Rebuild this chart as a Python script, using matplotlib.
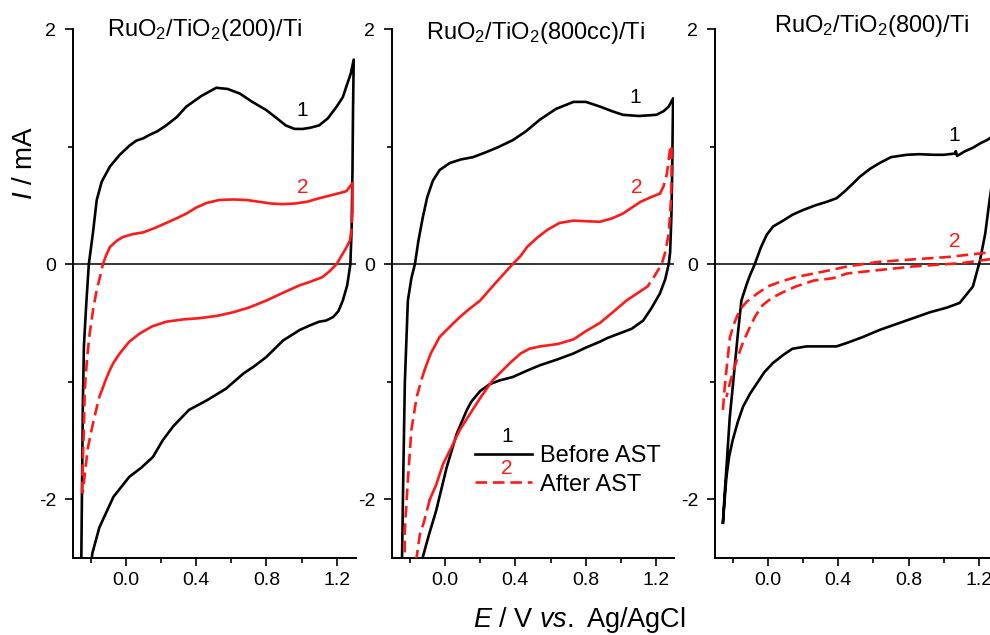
import matplotlib
matplotlib.use("Agg")
import matplotlib.pyplot as plt
from matplotlib.lines import Line2D
from matplotlib.ticker import FixedLocator, FormatStrFormatter

plt.rcParams['font.family'] = ['Liberation Sans', 'DejaVu Sans']
plt.rcParams['mathtext.fontset'] = 'custom'
plt.rcParams['mathtext.rm'] = 'Liberation Sans'
plt.rcParams['mathtext.it'] = 'Liberation Sans:italic'
plt.rcParams['mathtext.bf'] = 'Liberation Sans:bold'
plt.rcParams['axes.unicode_minus'] = False

# ---------------- data ----------------
titles = [r'RuO$_2$/TiO$_2$(200)/Ti', r'RuO$_2$/TiO$_2$(800cc)/Ti', r'RuO$_2$/TiO$_2$(800)/Ti']
x_major = [0.0, 0.4, 0.8, 1.2]
x_minor = [-0.2, 0.2, 0.6, 1.0]
y_major = [-2, 0, 2]
y_minor = [-1, 1]
legend_labels = ['Before AST', 'After AST']
curve_ids = ['1', '2']

# Panel 1 : RuO2/TiO2(200)/Ti
p1_black_E = [-0.255, -0.252, -0.248, -0.244, -0.238, -0.225, -0.21, -0.187, -0.165, -0.137, -0.09, -0.034,
              0.023, 0.06, 0.10, 0.136, 0.18, 0.23, 0.29, 0.345, 0.43, 0.515, 0.58, 0.65, 0.72, 0.80,
              0.86, 0.91, 0.96, 1.007, 1.05, 1.10, 1.15, 1.20, 1.235, 1.255, 1.28, 1.297, 1.293, 1.29, 1.285,
              1.278, 1.26, 1.235, 1.21, 1.18, 1.14, 1.10, 1.05, 0.99, 0.895, 0.80, 0.73, 0.67, 0.57, 0.46,
              0.36, 0.27, 0.21, 0.155, 0.09, 0.02, -0.07, -0.15, -0.19, -0.22]
p1_black_I = [-2.9, -2.4, -1.8, -1.2, -0.7, -0.35, 0.0, 0.26, 0.545, 0.70, 0.83, 0.93,
              1.01, 1.05, 1.07, 1.10, 1.13, 1.18, 1.25, 1.34, 1.43, 1.50, 1.49, 1.45, 1.38, 1.31,
              1.24, 1.18, 1.15, 1.15, 1.16, 1.18, 1.24, 1.34, 1.42, 1.51, 1.62, 1.74, 1.3, 0.8, 0.3,
              0.0, -0.18, -0.31, -0.40, -0.45, -0.48, -0.49, -0.52, -0.56, -0.65, -0.79, -0.87, -0.93, -1.06, -1.16,
              -1.24, -1.38, -1.50, -1.64, -1.73, -1.81, -1.98, -2.24, -2.46, -2.9]
p1_red_dash1_E = [-0.248, -0.245, -0.24, -0.233, -0.22, -0.205, -0.185, -0.165, -0.145, -0.13]
p1_red_dash1_I = [-1.95, -1.7, -1.5, -1.07, -0.8, -0.59, -0.38, -0.22, -0.1, 0.0]
p1_red_solid1_E = [-0.13, -0.11, -0.09, -0.05, -0.017, 0.04, 0.10, 0.17, 0.23, 0.29, 0.345, 0.40, 0.46, 0.53,
                   0.61, 0.69, 0.76, 0.83, 0.89, 0.96, 1.03, 1.10, 1.18, 1.255, 1.29, 1.29]
p1_red_solid1_I = [0.0, 0.08, 0.145, 0.2, 0.23, 0.255, 0.27, 0.31, 0.35, 0.39, 0.43, 0.48, 0.52, 0.545,
                   0.55, 0.545, 0.53, 0.515, 0.51, 0.515, 0.53, 0.56, 0.59, 0.62, 0.69, 0.45]
p1_red_dash2_E = [1.29, 1.285, 1.275]
p1_red_dash2_I = [0.45, 0.3, 0.2]
p1_red_solid2_E = [1.275, 1.255, 1.235, 1.20, 1.16, 1.12, 1.05, 0.99, 0.90, 0.80, 0.70, 0.61, 0.52, 0.42,
                   0.33, 0.23, 0.15, 0.08, 0.02, -0.034, -0.07, -0.09, -0.11, -0.13]
p1_red_solid2_I = [0.2, 0.14, 0.09, 0.0, -0.06, -0.11, -0.15, -0.18, -0.24, -0.31, -0.37, -0.41, -0.44, -0.46,
                   -0.47, -0.49, -0.53, -0.59, -0.66, -0.76, -0.84, -0.90, -0.97, -1.05]
p1_red_dash3_E = [-0.13, -0.15, -0.165, -0.19, -0.215, -0.23, -0.245]
p1_red_dash3_I = [-1.05, -1.13, -1.22, -1.38, -1.56, -1.75, -1.95]

# Panel 2 : RuO2/TiO2(800cc)/Ti
p2_black_E = [-0.246, -0.243, -0.235, -0.227, -0.21, -0.19, -0.17, -0.15, -0.125, -0.1, -0.068, -0.03,
              0.028, 0.09, 0.16, 0.23, 0.295, 0.386, 0.46, 0.54, 0.63, 0.73, 0.80, 0.88, 0.95, 1.01, 1.10,
              1.20, 1.24, 1.27, 1.295, 1.292, 1.29, 1.285, 1.278, 1.27, 1.25, 1.22, 1.17, 1.125, 1.06, 0.99,
              0.92, 0.88, 0.80, 0.73, 0.64, 0.54, 0.46, 0.386, 0.31, 0.256, 0.20, 0.15, 0.125, 0.068, 0.01,
              -0.05, -0.09, -0.125, -0.16]
p2_black_I = [-2.9, -2.5, -1.7, -1.0, -0.31, -0.12, 0.0, 0.2, 0.40, 0.57, 0.71, 0.80,
              0.86, 0.89, 0.91, 0.95, 0.99, 1.055, 1.13, 1.23, 1.32, 1.38, 1.38, 1.34, 1.30, 1.27, 1.26,
              1.27, 1.30, 1.34, 1.41, 1.1, 0.8, 0.4, 0.1, 0.0, -0.13, -0.25, -0.38, -0.48, -0.55, -0.59,
              -0.63, -0.66, -0.71, -0.76, -0.81, -0.86, -0.91, -0.96, -0.99, -1.02, -1.08, -1.17, -1.24, -1.44, -1.73,
              -2.1, -2.3, -2.49, -2.9]
p2_red_dash1_E = [-0.228, -0.227, -0.21, -0.19, -0.16, -0.13, -0.115]
p2_red_dash1_I = [-2.6, -2.26, -1.84, -1.41, -1.13, -0.97, -0.90]
p2_red_solid1_E = [-0.115, -0.08, -0.03, 0.03, 0.085, 0.14, 0.20, 0.27, 0.33, 0.385, 0.43, 0.466, 0.52, 0.58,
                   0.65, 0.73, 0.80, 0.88, 0.95, 1.01, 1.06, 1.11, 1.17, 1.22]
p2_red_solid1_I = [-0.90, -0.76, -0.62, -0.53, -0.45, -0.38, -0.31, -0.19, -0.09, 0.0, 0.07, 0.145, 0.22, 0.29,
                   0.35, 0.37, 0.365, 0.36, 0.39, 0.43, 0.48, 0.53, 0.57, 0.60]
p2_red_dash2_E = [1.22, 1.24, 1.26, 1.28, 1.286, 1.286, 1.283, 1.27, 1.25, 1.23, 1.19, 1.15]
p2_red_dash2_I = [0.60, 0.66, 0.77, 1.01, 1.0, 0.75, 0.55, 0.26, 0.1, 0.0, -0.1, -0.19]
p2_red_solid2_E = [1.15, 1.07, 1.03, 0.96, 0.88, 0.80, 0.73, 0.64, 0.54, 0.48, 0.43, 0.37, 0.31, 0.27, 0.20,
                   0.14, 0.085, 0.04, -0.01, -0.05, -0.085]
p2_red_solid2_I = [-0.19, -0.27, -0.31, -0.40, -0.50, -0.57, -0.64, -0.68, -0.70, -0.72, -0.76, -0.84, -0.93,
                   -0.99, -1.14, -1.28, -1.41, -1.55, -1.70, -1.88, -2.0]
p2_red_dash3_E = [-0.085, -0.12, -0.142, -0.16, -0.17]
p2_red_dash3_I = [-2.0, -2.2, -2.3, -2.49, -2.6]

# Panel 3 : RuO2/TiO2(800)/Ti
p3_black_E = [-0.255, -0.245, -0.235, -0.216, -0.197, -0.17, -0.15, -0.12, -0.10, -0.074, -0.04, -0.006, 0.03,
              0.087, 0.14, 0.20, 0.27, 0.335, 0.39, 0.43, 0.48, 0.52, 0.58, 0.635, 0.70, 0.79, 0.86, 0.94,
              1.00, 1.06, 1.068, 1.075, 1.12, 1.165, 1.21, 1.245, 1.27, 1.30, 1.30, 1.28, 1.26, 1.235, 1.205,
              1.165, 1.09, 1.017, 0.92, 0.825, 0.73, 0.635, 0.54, 0.45, 0.39, 0.30, 0.22, 0.14, 0.09, 0.03,
              -0.02, -0.06, -0.10, -0.14, -0.17, -0.20, -0.22, -0.235, -0.245, -0.255]
p3_black_I = [-2.2, -1.95, -1.73, -1.30, -1.01, -0.59, -0.31, -0.17, -0.09, 0.0, 0.14, 0.25, 0.32,
              0.37, 0.42, 0.46, 0.50, 0.53, 0.56, 0.61, 0.68, 0.74, 0.81, 0.86, 0.91, 0.93, 0.935, 0.93,
              0.93, 0.94, 0.96, 0.92, 0.96, 0.99, 1.03, 1.055, 1.08, 1.12, 0.9, 0.75, 0.55, 0.26, 0.03,
              -0.19, -0.33, -0.37, -0.41, -0.46, -0.51, -0.56, -0.62, -0.67, -0.70, -0.70, -0.70, -0.72, -0.77, -0.84,
              -0.92, -1.01, -1.10, -1.21, -1.34, -1.50, -1.64, -1.81, -2.0, -2.2]
p3_red_up_E = [-0.255, -0.245, -0.235, -0.215, -0.19, -0.16, -0.12, -0.06, 0.0, 0.07, 0.16, 0.26, 0.36, 0.45,
               0.54, 0.635, 0.73, 0.825, 0.92, 1.02, 1.11, 1.205, 1.30]
p3_red_up_I = [-1.24, -1.05, -0.90, -0.62, -0.50, -0.39, -0.32, -0.25, -0.19, -0.15, -0.11, -0.08, -0.05, -0.02,
               0.0, 0.02, 0.03, 0.04, 0.05, 0.06, 0.075, 0.09, 0.11]
p3_red_down_E = [1.30, 1.205, 1.11, 1.02, 0.92, 0.825, 0.73, 0.635, 0.54, 0.45, 0.37, 0.26, 0.16, 0.085, 0.02,
                 -0.03, -0.07, -0.10, -0.14, -0.17, -0.195, -0.215, -0.235]
p3_red_down_I = [0.05, 0.03, 0.01, 0.0, -0.01, -0.02, -0.035, -0.05, -0.065, -0.08, -0.12, -0.14, -0.19, -0.24,
                 -0.29, -0.35, -0.44, -0.53, -0.66, -0.79, -0.90, -1.01, -1.13]

# curve-number label anchors (data coords) per panel
label1_pos = [(1.006, 1.31), (1.08, 1.42), (1.06, 1.09)]
label2_pos = [(1.006, 0.65), (1.09, 0.65), (1.06, 0.19)]

# ---------------- drawing ----------------
W, H = 990, 635
fig = plt.figure(figsize=(W / 100, H / 100), dpi=100)

def frac(x0, y0, x1, y1):
    return [x0 / W, 1 - y1 / H, (x1 - x0) / W, (y1 - y0) / H]

axes = [fig.add_axes(frac(73, 29, 356, 558)),
        fig.add_axes(frac(392, 29, 674, 558)),
        fig.add_axes(frac(715, 29, 990, 558))]
xlims = [(-0.30, 1.31), (-0.30, 1.30), (-0.30, 1.262)]

BLACK = 'black'
RED = '#ff1a1a'
LW = 1.9
DASH = (0, (4.4, 2.2))

solid_sets = [
    ([(p1_black_E, p1_black_I)], [(p1_red_solid1_E, p1_red_solid1_I), (p1_red_solid2_E, p1_red_solid2_I)],
     [(p1_red_dash1_E, p1_red_dash1_I), (p1_red_dash2_E, p1_red_dash2_I), (p1_red_dash3_E, p1_red_dash3_I)]),
    ([(p2_black_E, p2_black_I)], [(p2_red_solid1_E, p2_red_solid1_I), (p2_red_solid2_E, p2_red_solid2_I)],
     [(p2_red_dash1_E, p2_red_dash1_I), (p2_red_dash2_E, p2_red_dash2_I), (p2_red_dash3_E, p2_red_dash3_I)]),
    ([(p3_black_E, p3_black_I)], [],
     [(p3_red_up_E, p3_red_up_I), (p3_red_down_E, p3_red_down_I)]),
]

for k, ax in enumerate(axes):
    blacks, red_solid, red_dash = solid_sets[k]
    ax.axhline(0, color='black', lw=1.1, zorder=1)
    for E, I in blacks:
        ax.plot(E, I, color=BLACK, lw=LW, solid_joinstyle='round', zorder=3)
    for E, I in red_solid:
        ax.plot(E, I, color=RED, lw=LW, solid_joinstyle='round', zorder=4)
    for E, I in red_dash:
        ax.plot(E, I, color=RED, lw=LW, ls=DASH, zorder=4)
    ax.set_xlim(*xlims[k])
    ax.set_ylim(-2.5, 2.0)
    for s in ('top', 'right'):
        ax.spines[s].set_visible(False)
    for s in ('left', 'bottom'):
        ax.spines[s].set_linewidth(1.4)
    ax.xaxis.set_major_locator(FixedLocator(x_major))
    ax.xaxis.set_minor_locator(FixedLocator(x_minor))
    ax.yaxis.set_major_locator(FixedLocator(y_major))
    ax.yaxis.set_minor_locator(FixedLocator(y_minor))
    ax.xaxis.set_major_formatter(FormatStrFormatter('%.1f'))
    ax.yaxis.set_major_formatter(FormatStrFormatter('%d'))
    ax.tick_params(which='major', direction='out', length=6, width=1.2, labelsize=14, pad=4)
    ax.tick_params(which='minor', direction='out', length=3.5, width=1.2)
    ax.tick_params(axis='y', which='major', pad=6)
    ax.set_facecolor('none')
    x1, y1 = label1_pos[k]
    x2, y2 = label2_pos[k]
    ax.text(x1, y1, curve_ids[0], color=BLACK, fontsize=15, ha='center', va='center')
    ax.text(x2, y2, curve_ids[1], color=RED, fontsize=15, ha='center', va='center')

# titles
title_xy = [(205, 36), (535, 39), (872, 32)]
for t, (tx, ty) in zip(titles, title_xy):
    fig.text(tx / W, 1 - ty / H, t, fontsize=17, ha='center', va='baseline')

# axis labels
fig.text(25 / W, 1 - 163 / H, r'$\it{I}$ / mA', fontsize=20, rotation=90, ha='center', va='center')
fig.text(579 / W, 1 - 627 / H, r'$\it{E}$ / V $\it{vs.}$ Ag/AgCl', fontsize=19.5, ha='center', va='baseline')

# legend in middle panel
handles = [Line2D([], [], color=BLACK, lw=LW), Line2D([], [], color=RED, lw=LW, ls=DASH)]
leg = axes[1].legend(handles, legend_labels, loc='upper left', bbox_to_anchor=(475 / W, 1 - 445 / H),
                     bbox_transform=fig.transFigure, frameon=False, fontsize=17, handlelength=2.4,
                     handletextpad=0.35, labelspacing=0.28, borderpad=0, borderaxespad=0)
fig.text(507 / W, 1 - 437 / H, curve_ids[0], fontsize=15, color=BLACK, ha='center', va='center')
fig.text(507 / W, 1 - 469 / H, curve_ids[1], fontsize=15, color=RED, ha='center', va='center')

fig.savefig('out.png', dpi=100)
